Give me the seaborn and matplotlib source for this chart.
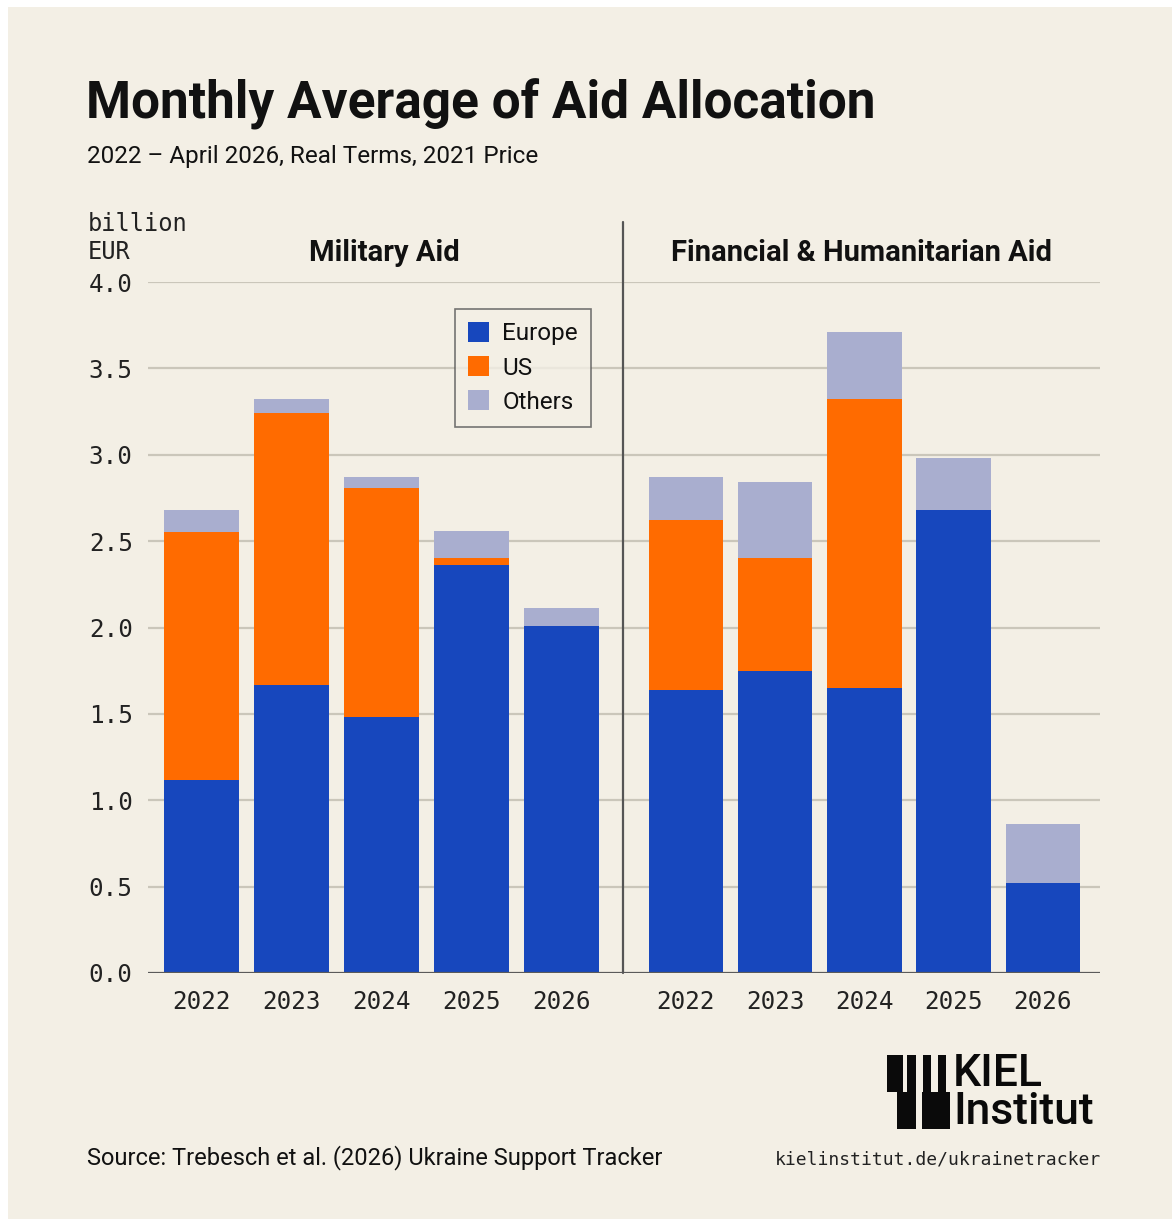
import matplotlib
matplotlib.use("Agg")
import matplotlib.pyplot as plt
import seaborn as sns
import pandas as pd
from matplotlib.patches import Patch, Rectangle
from matplotlib.lines import Line2D

# data (billion EUR, monthly average)
years = ["2022", "2023", "2024", "2025", "2026"]
military_europe = [1.12, 1.67, 1.48, 2.36, 2.01]
military_us = [1.43, 1.57, 1.33, 0.04, 0.0]
military_others = [0.13, 0.08, 0.06, 0.16, 0.10]
financial_europe = [1.64, 1.75, 1.65, 2.68, 0.52]
financial_us = [0.98, 0.65, 1.67, 0.0, 0.0]
financial_others = [0.25, 0.44, 0.39, 0.30, 0.34]

panels = ["Military Aid", "Financial & Humanitarian Aid"]
sources = ["Europe", "US", "Others"]
y_ticks = [0.0, 0.5, 1.0, 1.5, 2.0, 2.5, 3.0, 3.5, 4.0]

palette = {"Europe": "#1747BD", "US": "#FF6B00", "Others": "#A9AECF"}
bg = "#F3EFE5"
mono = "DejaVu Sans Mono"
sans = "Roboto"

rows = []
for panel, vals in zip(panels, [(military_europe, military_us, military_others),
                                (financial_europe, financial_us, financial_others)]):
    for i, yr in enumerate(years):
        for src, v in zip(sources, vals):
            rows.append({"panel": panel, "year": yr, "source": src, "value": v[i]})
df = pd.DataFrame(rows)
# cumulative heights for stacking
df["cum"] = df.groupby(["panel", "year"])["value"].cumsum()

sns.set_theme(style="white")
plt.rcParams["font.family"] = [sans, "DejaVu Sans"]

fig = plt.figure(figsize=(11.72, 12.19), dpi=100, facecolor="white")
fig.patches.append(Rectangle((8 / 1172, 0), 1, 1 - 7 / 1219, transform=fig.transFigure,
                             facecolor=bg, edgecolor="none", zorder=-10))

W, H = 1172, 1219
def fx(px):
    return px / W
def fy(py):
    return 1 - py / H

bottom = fy(973)
height = fy(282) - bottom
ax1 = fig.add_axes([fx(148), bottom, fx(623) - fx(148), height])
ax2 = fig.add_axes([fx(623), bottom, fx(1100) - fx(623), height])

for ax, panel, xl in [(ax1, panels[0], (-0.60, 4.69)), (ax2, panels[1], (-0.705, 4.64))]:
    sub = df[df["panel"] == panel]
    for src in reversed(sources):
        part = sub[sub["source"] == src]
        sns.barplot(data=part, x="year", y="cum", order=years, color=palette[src],
                    width=0.835, saturation=1, linewidth=0, edgecolor="none", ax=ax, zorder=3)
    ax.set_facecolor("none")
    ax.set_ylim(0, 4)
    ax.set_xlim(*xl)
    ax.set_yticks(y_ticks)
    for t in y_ticks[1:]:
        ax.axhline(t, color="#CAC6BA", lw=1.6, zorder=1)
    ax.axhline(0, color="#5A5A5A", lw=1.6, zorder=4)
    for s in ax.spines.values():
        s.set_visible(False)
    ax.set_xlabel("")
    ax.set_ylabel("")
    ax.tick_params(axis="both", length=0)
    ax.tick_params(axis="x", pad=12)
    for lab in ax.get_xticklabels():
        lab.set_fontfamily(mono)
        lab.set_fontsize(17.5)
        lab.set_color("#222222")

ax1.set_yticklabels([f"{t:.1f}" for t in y_ticks], fontfamily=mono, fontsize=17.5, color="#222222")
ax1.tick_params(axis="y", pad=11)
ax2.set_yticklabels([])

# divider between panels
fig.add_artist(Line2D([fx(623), fx(623)], [fy(973), fy(222)], color="#555555", lw=1.6,
                      transform=fig.transFigure))

# titles
fig.text(fx(86), fy(104), "Monthly Average of Aid Allocation", fontsize=37, fontweight="bold",
         color="#111111", va="center", ha="left")
fig.text(fx(87), fy(157), "2022 \u2013 April 2026, Real Terms, 2021 Price", fontsize=17.5,
         color="#111111", va="center", ha="left")
fig.text(fx(88), fy(224), "billion", fontfamily=mono, fontsize=17, color="#222222", va="center")
fig.text(fx(88), fy(252), "EUR", fontfamily=mono, fontsize=17, color="#222222", va="center")
fig.text(fx(384), fy(253), panels[0], fontsize=21, fontweight="bold", color="#111111",
         ha="center", va="center")
fig.text(fx(862), fy(253), panels[1], fontsize=21, fontweight="bold", color="#111111",
         ha="center", va="center")

# legend
handles = [Patch(facecolor=palette[s], edgecolor="none", label=s) for s in sources]
leg = fig.legend(handles=handles, loc="upper left", bbox_to_anchor=(fx(455), fy(309)),
                 frameon=True, fancybox=False, fontsize=17.5, handlelength=0.85, handleheight=0.85,
                 handletextpad=0.55, labelspacing=0.45, borderpad=0.55, borderaxespad=0)
leg.get_frame().set_edgecolor("#555555")
leg.get_frame().set_facecolor(bg)
leg.get_frame().set_linewidth(1.2)
for t in leg.get_texts():
    t.set_color("#111111")

# footer
fig.text(fx(87), fy(1158), "Source: Trebesch et al. (2026) Ukraine Support Tracker", fontsize=17,
         color="#111111", va="center", ha="left")
fig.text(fx(1101), fy(1160), "kielinstitut.de/ukrainetracker", fontfamily=mono, fontsize=13,
         color="#222222", va="center", ha="right")

# logo
logo_bars = [(887, 1055, 16, 37), (907, 1055, 9, 37), (923, 1055, 8, 37), (938, 1055, 8, 37),
             (897, 1092, 19, 37), (922, 1092, 28, 37)]
for x0, y0, w, h in logo_bars:
    fig.patches.append(Rectangle((fx(x0), fy(y0 + h)), w / W, h / H, transform=fig.transFigure,
                                 facecolor="#0A0A0A", edgecolor="none"))
fig.text(fx(953), fy(1093), "KIEL\nInstitut", fontsize=32, fontweight="medium", color="#0A0A0A",
         va="center", ha="left", linespacing=0.9)

fig.savefig("out.png", dpi=100, facecolor=fig.get_facecolor())
